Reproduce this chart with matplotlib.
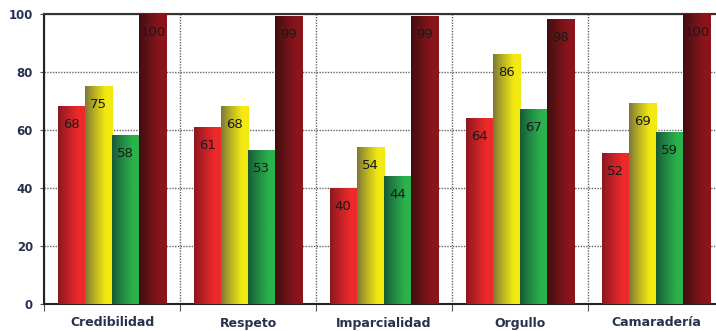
import numpy as np
import matplotlib
matplotlib.use("Agg")
import matplotlib.pyplot as plt
from matplotlib.colors import LinearSegmentedColormap

categories = ["Credibilidad", "Respeto", "Imparcialidad", "Orgullo", "Camaradería"]
serie_1 = [68, 61, 40, 64, 52]
serie_2 = [75, 68, 54, 86, 69]
serie_3 = [58, 53, 44, 67, 59]
serie_4 = [100, 99, 99, 98, 100]
yticks = [0, 20, 40, 60, 80, 100]

series = [serie_1, serie_2, serie_3, serie_4]
# left (shaded) and right (lit) colour of each series' gradient
shades = [
    ("#8a1820", "#ee2a2a"),
    ("#7c7638", "#f2ea10"),
    ("#185838", "#2ab24c"),
    ("#3e0e10", "#8a161c"),
]

navy = "#27324f"

fig = plt.figure(figsize=(7.16, 3.31), dpi=100)
ax = fig.add_axes([44 / 716, 27 / 331, 680 / 716, 290 / 331])

n = len(categories)
x = np.arange(n)
bw = 0.2
ramp = np.clip(np.linspace(0, 1, 64) / 0.75, 0, 1) ** 0.9
grad = ramp[np.newaxis, :]

for i, (vals, (c0, c1)) in enumerate(zip(series, shades)):
    cmap = LinearSegmentedColormap.from_list(f"s{i}", [c0, c1])
    offs = (i - 1.5) * bw
    bars = ax.bar(x + offs, vals, width=bw, facecolor="none", edgecolor="none", zorder=3)
    for b, v in zip(bars, vals):
        x0, y0 = b.get_x(), b.get_y()
        ax.imshow(grad, cmap=cmap, vmin=0, vmax=1, aspect="auto",
                  extent=(x0, x0 + b.get_width(), y0, y0 + b.get_height()),
                  interpolation="bilinear", zorder=3)
        ax.annotate(str(v), (b.get_x() + b.get_width() / 2, v),
                    xytext=(0, -13), textcoords="offset points",
                    ha="center", va="center", fontsize=9.5, color="#1a1a1a",
                    family="DejaVu Sans", zorder=4)

ax.set_xlim(-0.5, n - 0.5)
ax.set_ylim(0, 100)
ax.set_yticks(yticks)
ax.set_yticklabels([str(t) for t in yticks], fontsize=8.5, fontweight="bold", color=navy)

ax.set_xticks(np.arange(n + 1) - 0.5)
ax.set_xticklabels([])
ax.set_xticks(x, minor=True)
ax.set_xticklabels(categories, minor=True, fontsize=9, fontweight="bold", color=navy)
ax.tick_params(axis="x", which="minor", length=0, pad=9)
ax.tick_params(axis="x", which="major", length=5, color="#555555", direction="out")
ax.tick_params(axis="y", length=3, color="#555555", direction="out", pad=5)

ax.grid(True, which="major", axis="both", color="#666666", linestyle=(0, (1, 1)), linewidth=1, zorder=1)
ax.set_axisbelow(True)

for side in ("left", "bottom"):
    ax.spines[side].set_color("#222222")
    ax.spines[side].set_linewidth(1.5)
ax.spines["top"].set_color("#333333")
ax.spines["top"].set_linestyle((0, (1, 0.5)))
ax.spines["top"].set_linewidth(1.5)
ax.spines["right"].set_visible(False)

fig.savefig("out.png", dpi=100)
